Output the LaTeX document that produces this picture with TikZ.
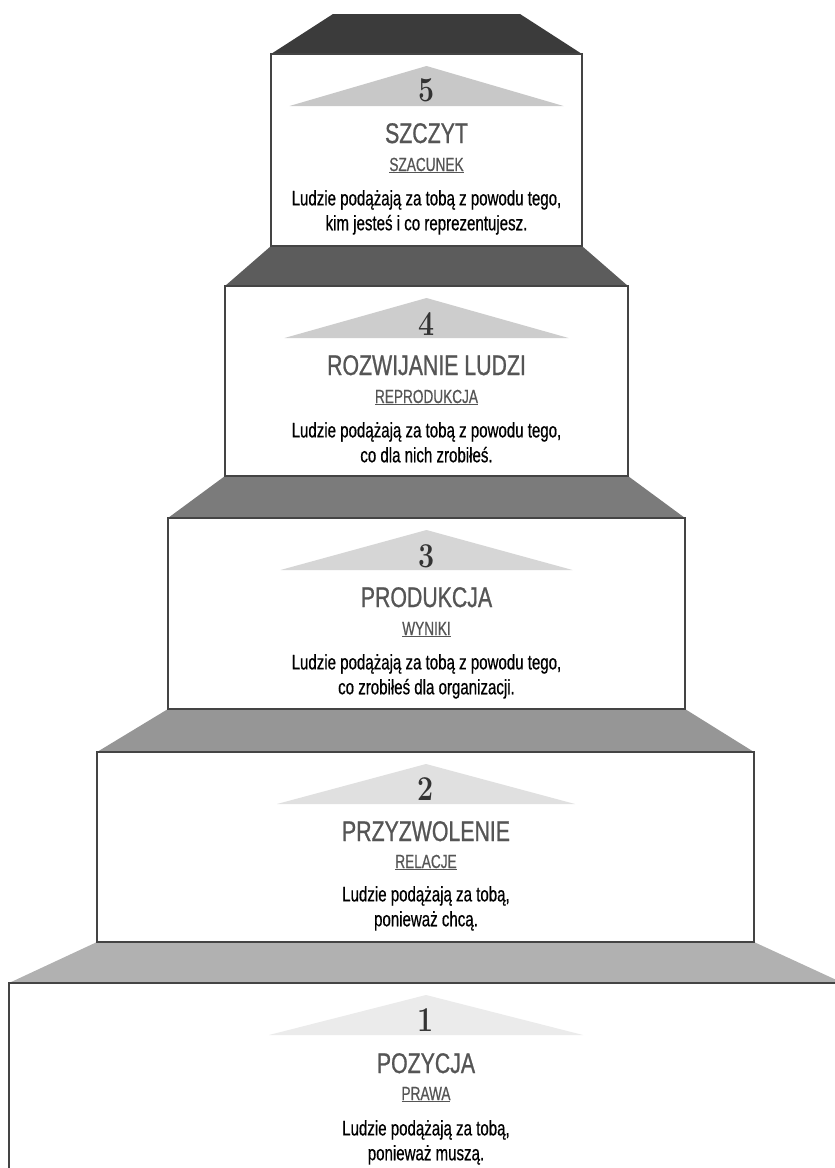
\documentclass[tikz,border=0pt]{standalone}
\usepackage{fontspec}
\usepackage{graphicx}
\newfontfamily\cond{Liberation Sans}[FakeStretch=0.72,FakeBold=0.6]
\newfontfamily\condt{Liberation Sans}[FakeStretch=0.75,FakeBold=0.8]
\definecolor{roofE}{HTML}{3B3B3B}
\definecolor{roofD}{HTML}{5C5C5C}
\definecolor{roofC}{HTML}{7B7B7B}
\definecolor{roofB}{HTML}{969696}
\definecolor{roofA}{HTML}{B1B1B1}
\definecolor{triE}{HTML}{C8C8C8}
\definecolor{triD}{HTML}{CDCDCD}
\definecolor{triC}{HTML}{D6D6D6}
\definecolor{triB}{HTML}{E0E0E0}
\definecolor{triA}{HTML}{EBEBEB}
\definecolor{bordercol}{HTML}{444444}
\definecolor{ttlcol}{HTML}{555555}
\definecolor{numcol}{HTML}{333333}
\begin{document}
\begin{tikzpicture}[x=1bp,y=-1bp,
  stepbox/.style={draw=bordercol, line width=1.6bp, fill=white},
  numtxt/.style={font=\fontsize{35}{35}\selectfont\bfseries, text=numcol, inner sep=0pt, anchor=base},
  ttltxt/.style={font=\condt\fontsize{28.5}{30}\selectfont, text=ttlcol, inner sep=0pt, anchor=base},
  subtxt/.style={font=\cond\fontsize{19}{21}\selectfont, text=ttlcol, inner sep=0pt, anchor=base},
  bodytxt/.style={font=\cond\fontsize{21}{25}\selectfont, text=black, inner sep=0pt, anchor=north, align=center}]
\useasboundingbox (0,0) rectangle (835,1168);
\clip (0,0) rectangle (835,1168);
% roofs
\fill[roofE] (333,14) -- (520,14) -- (582,54) -- (271,54) -- cycle;
\fill[roofD] (271,246) -- (582,246) -- (628,286) -- (225,286) -- cycle;
\fill[roofC] (225,476) -- (628,476) -- (685,518) -- (168,518) -- cycle;
\fill[roofB] (168,709) -- (685,709) -- (754,752) -- (97,752) -- cycle;
\fill[roofA] (97,942) -- (754,942) -- (843,983) -- (9,983) -- cycle;
% boxes
\draw[stepbox] (271,54) rectangle (582,246);
\draw[stepbox] (225,286) rectangle (628,476);
\draw[stepbox] (168,518) rectangle (685,709);
\draw[stepbox] (97,752) rectangle (754,942);
\draw[stepbox] (9,983) rectangle (843,1200);
% triangles
\fill[triE] (426.5,66) -- (563.5,106) -- (289.5,106) -- cycle;
\fill[triD] (426.5,298) -- (568.5,338) -- (284.5,338) -- cycle;
\fill[triC] (426.5,530) -- (572.5,570) -- (280.5,570) -- cycle;
\fill[triB] (426,764) -- (575,804) -- (277,804) -- cycle;
\fill[triA] (426,995) -- (583,1035) -- (269,1035) -- cycle;
% level 5
\node[numtxt] (n5) at (426.5,101.5) {\scalebox{0.82}[1]{5}};
\node[ttltxt] (t5) at (426.5,143) {SZCZYT};
\node[subtxt] (s5) at (426.5,171) {\underline{SZACUNEK}};
\node[bodytxt] (b5) at (426.5,190) {Ludzie podążają za tobą z powodu tego,\\kim jesteś i co reprezentujesz.};
% level 4
\node[numtxt] (n4) at (426.5,335.5) {\scalebox{0.82}[1]{4}};
\node[ttltxt] (t4) at (426.5,375) {ROZWIJANIE LUDZI};
\node[subtxt] (s4) at (426.5,403) {\underline{REPRODUKCJA}};
\node[bodytxt] (b4) at (426.5,422) {Ludzie podążają za tobą z powodu tego,\\co dla nich zrobiłeś.};
% level 3
\node[numtxt] (n3) at (426.5,567.5) {\scalebox{0.82}[1]{3}};
\node[ttltxt] (t3) at (426.5,607) {PRODUKCJA};
\node[subtxt] (s3) at (426.5,635) {\underline{WYNIKI}};
\node[bodytxt] (b3) at (426.5,654) {Ludzie podążają za tobą z powodu tego,\\co zrobiłeś dla organizacji.};
% level 2
\node[numtxt] (n2) at (426,800.5) {\scalebox{0.82}[1]{2}};
\node[ttltxt] (t2) at (426,841) {PRZYZWOLENIE};
\node[subtxt] (s2) at (426,868) {\underline{RELACJE}};
\node[bodytxt] (b2) at (426,886) {Ludzie podążają za tobą,\\ponieważ chcą.};
% level 1
\node[numtxt] (n1) at (426,1031.5) {\scalebox{0.82}[1]{1}};
\node[ttltxt] (t1) at (426,1073) {POZYCJA};
\node[subtxt] (s1) at (426,1100) {\underline{PRAWA}};
\node[bodytxt] (b1) at (426,1120) {Ludzie podążają za tobą,\\ponieważ muszą.};
\end{tikzpicture}
\end{document}
